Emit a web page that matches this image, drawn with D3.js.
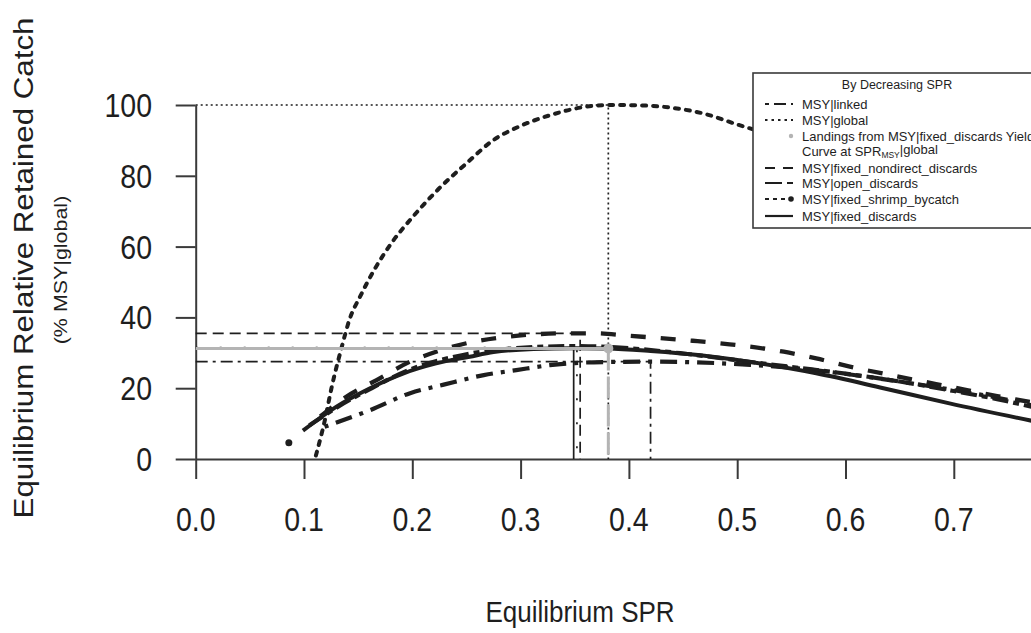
<!DOCTYPE html>
<html>
<head>
<meta charset="utf-8">
<script src="https://cdn.jsdelivr.net/npm/d3@7"></script>
<style>
  body { margin: 0; background: #fff; }
  svg { display: block; font-family: "Liberation Sans", Arial, sans-serif; }
  text { fill: #1e1e1e; }
</style>
</head>
<body>
<svg id="chart" width="1031" height="633"></svg>
<script>
// curves (x = equilibrium SPR, y = % of MSY|global)
const sprGlobal   = [0.111,0.12,0.125,0.135,0.142,0.152,0.165,0.181,0.201,0.224,0.251,0.274,0.3,0.326,0.356,0.381,0.41,0.44,0.47,0.5,0.55,0.6,0.65,0.7,0.78];
const catchGlobal = [1,12,19.5,31.8,39.4,46,53.5,61.1,68.6,76.2,83.8,89.9,94.1,97,99.3,100,99.9,99.2,97.5,94.5,90,86,81.5,76.5,68];

const sprFixed    = [0.099,0.13,0.161,0.192,0.222,0.253,0.275,0.312,0.35,0.38,0.42,0.466,0.512,0.573,0.635,0.696,0.78];
const catchFixed  = [8,14.8,20,24.2,27,28.9,30.2,31.1,31.3,31.2,30.5,29.3,27.4,24.2,20,15.7,10.3];

const sprNondirect   = [0.115,0.139,0.167,0.198,0.222,0.25,0.281,0.312,0.343,0.369,0.4,0.432,0.459,0.493,0.543,0.573,0.604,0.65,0.7,0.74,0.78];
const catchNondirect = [12,17.6,22.3,27.5,30.3,32.7,34.3,35.2,35.5,35.5,34.8,34.1,33.4,32.4,30.3,28.4,26.1,23.2,20.2,17.8,15.6];

const sprLinked   = [0.119,0.161,0.198,0.229,0.266,0.296,0.327,0.35,0.38,0.42,0.48,0.512,0.55,0.583,0.641,0.703,0.74,0.78];
const catchLinked = [9.1,13.8,18.6,21,23.7,25.1,26.5,27.1,27.4,27.5,27.1,26.6,25.8,24.7,22.3,19.3,17.3,14.6];

const sprOpen     = [0.105,0.13,0.16,0.2,0.25,0.3,0.35,0.4,0.45,0.5,0.55,0.6,0.65,0.7,0.74,0.78];
const catchOpen   = [9.5,14.5,19.6,25.5,29.6,31.4,31.9,31.3,29.8,27.9,26,24.1,21.9,19.2,16.9,14.2];

// MSY reference points
const shrimpPoint   = [0.086, 4.6];
const landingsPoint = [0.381, 31.2];
const msyLinked     = [0.42, 27.5];
const msyGlobal     = [0.381, 100];
const msyNondirect  = [0.355, 35.5];
const msyOpen       = [0.352, 31.5];
const msyFixed      = [0.349, 31.3];

const xTicks = [0, 0.1, 0.2, 0.3, 0.4, 0.5, 0.6, 0.7, 0.8];
const xLabels = [0, 0.1, 0.2, 0.3, 0.4, 0.5, 0.6, 0.7];
const yTicks = [0, 20, 40, 60, 80, 100];

const legendTitle = "By Decreasing SPR";
const legendLabels = ["MSY|linked", "MSY|global", "Landings from MSY|fixed_discards Yield",
  "Curve at SPR", "MSY|fixed_nondirect_discards", "MSY|open_discards",
  "MSY|fixed_shrimp_bycatch", "MSY|fixed_discards"];

const SY = 1.16;   // the picture is stretched a bit vertically
const ink = "#1e1e1e", axisCol = "#3a3a3a", grey = "#b4b4b4";

const svg = d3.select("#chart");
const x = d3.scaleLinear().domain([0, 0.8]).range([195.7, 195.7 + 8 * 108.3]);
const y = d3.scaleLinear().domain([0, 100]).range([459, 105]);

function txt(g, px, py, str, size, anchor, rot, sy) {
  return g.append("text")
    .attr("transform", `translate(${px},${py}) scale(1,${sy || SY})` + (rot ? " rotate(-90)" : ""))
    .attr("text-anchor", anchor)
    .style("font-size", size + "px")
    .text(str);
}

// axes
const gx = svg.append("g").attr("transform", `translate(0,${y(0)})`)
  .call(d3.axisBottom(x).tickValues(xTicks).tickSize(20).tickSizeOuter(0).tickFormat(""));
const gy = svg.append("g").attr("transform", `translate(${x(0)},0)`)
  .call(d3.axisLeft(y).tickValues(yTicks).tickSize(20).tickSizeOuter(0).tickFormat(""));
svg.selectAll(".domain, .tick line").attr("stroke", axisCol).attr("stroke-width", 2);

xLabels.forEach(v => txt(svg, x(v), 531, d3.format(".1f")(v), 28.5, "middle"));
yTicks.forEach(v => txt(svg, 152, y(v), v, 28.5, "end").attr("dy", "0.36em"));

txt(svg, 580, 622, "Equilibrium SPR", 26, "middle");
txt(svg, 33, 268, "Equilibrium Relative Retained Catch", 27, "middle", true);
txt(svg, 67, 270, "(% MSY|global)", 18.5, "middle", true);

// reference lines at each MSY
const refs = svg.append("g").attr("fill", "none").attr("stroke", ink).attr("stroke-width", 1.7);
function refLine(p, dash, col, w) {
  refs.append("path")
    .attr("d", `M${x(0)},${y(p[1])}H${x(p[0])}V${y(0)}`)
    .attr("stroke", col || ink)
    .attr("stroke-width", w || 1.7)
    .attr("stroke-dasharray", dash);
}
refLine(msyFixed, null);
refLine(msyGlobal, "2,3");
refLine(msyNondirect, "11,6");
refLine(msyLinked, "12,5,3,5");
refLine(msyOpen, "2,22");

// curves
const line = d3.line().x(d => x(d[0])).y(d => y(d[1])).curve(d3.curveMonotoneX);
const curves = [
  { spr: sprGlobal, c: catchGlobal, dash: "4,7", w: 4, cap: "round" },
  { spr: sprLinked, c: catchLinked, dash: "4,8,17,8", w: 4.2 },
  { spr: sprOpen, c: catchOpen, dash: "16,5,6,5", w: 4.2 },
  { spr: sprNondirect, c: catchNondirect, dash: "15,15", w: 4.3 },
  { spr: sprFixed, c: catchFixed, dash: null, w: 4 }
];
curves.forEach(s => {
  svg.append("path")
    .datum(s.spr.map((v, i) => [v, s.c[i]]))
    .attr("d", line)
    .attr("fill", "none")
    .attr("stroke", ink)
    .attr("stroke-width", s.w)
    .attr("stroke-linecap", s.cap || "butt")
    .attr("stroke-dasharray", s.dash);
});

// landings at SPR(MSY|global), grey
svg.append("path")
  .attr("d", `M${x(0)},${y(landingsPoint[1])}H${x(landingsPoint[0])}`)
  .attr("fill", "none").attr("stroke", grey).attr("stroke-width", 3);
svg.append("path")
  .attr("d", `M${x(landingsPoint[0])},${y(landingsPoint[1])}V${y(0)}`)
  .attr("fill", "none").attr("stroke", grey).attr("stroke-width", 3).attr("stroke-dasharray", "22,6");
svg.append("circle").attr("cx", x(landingsPoint[0])).attr("cy", y(landingsPoint[1])).attr("r", 5).attr("fill", grey);
svg.append("circle").attr("cx", x(shrimpPoint[0])).attr("cy", y(shrimpPoint[1])).attr("r", 3.5).attr("fill", ink);

// legend
const lg = svg.append("g");
lg.append("rect").attr("x", 753).attr("y", 73).attr("width", 320).attr("height", 155)
  .attr("fill", "#fff").attr("stroke", axisCol).attr("stroke-width", 1.6);
txt(lg, 897, 89, legendTitle, 12.5, "middle", false, 1.05);
const rowY = [104, 120, 136, 151, 168, 183, 199, 216];
const sample = [
  { dash: "4,5,12,5" }, { dash: "2.5,4" }, { pt: grey }, null,
  { dash: "10,8" }, { dash: "17,5,6,5" }, { dash: "4,4", pt: ink }, { dash: null }
];
legendLabels.forEach((lab, i) => {
  const t = txt(lg, 802, rowY[i], lab, 13, "start", false, 1.05).attr("dy", "0.35em");
  if (i === 3) {
    t.append("tspan").attr("dy", "0.3em").style("font-size", "8.5px").text("MSY");
    t.append("tspan").attr("dy", "-0.3em").text("|global");
  }
  const s = sample[i];
  if (!s) return;
  if (s.dash !== undefined) {
    lg.append("line").attr("x1", 765).attr("x2", s.pt ? 789 : 793)
      .attr("y1", rowY[i]).attr("y2", rowY[i])
      .attr("stroke", ink).attr("stroke-width", 2.2).attr("stroke-dasharray", s.dash);
  }
  if (s.pt) {
    lg.append("circle").attr("cx", 791).attr("cy", rowY[i]).attr("r", s.pt === grey ? 2.2 : 2.8).attr("fill", s.pt);
  }
});
</script>
</body>
</html>
